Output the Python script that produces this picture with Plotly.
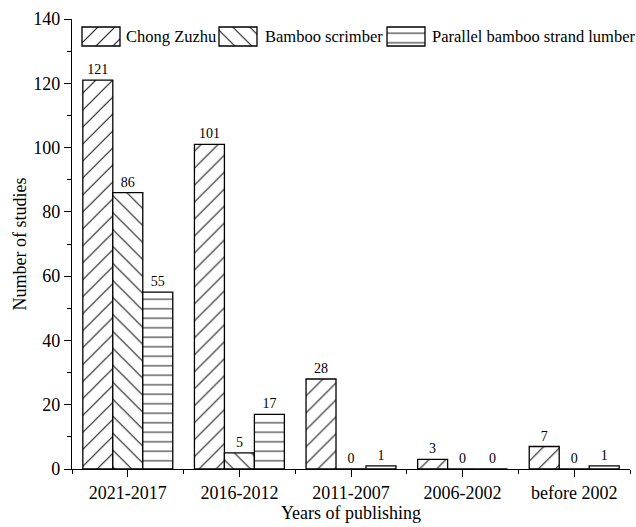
import plotly.graph_objects as go

# Publication counts per period for three engineered bamboo products
periods = ["2021-2017", "2016-2012", "2011-2007", "2006-2002", "before 2002"]
chong_zuzhu = [121, 101, 28, 3, 7]
bamboo_scrimber = [86, 5, 0, 0, 0]
pbsl = [55, 17, 1, 0, 1]
series_names = ["Chong Zuzhu", "Bamboo scrimber", "Parallel bamboo strand lumber"]

FONT = "Liberation Serif"
xpos = list(range(len(periods)))

# hatch style per series: (shape, tile size, solidity)
hatches = [("/", 12, 0.10), ("\\", 12, 0.10), ("-", 9.5, 0.11)]


def pattern(shape, size, solid):
    return dict(shape=shape, size=size, solidity=solid,
                fgcolor="#222", bgcolor="white", fillmode="replace")


fig = go.Figure()
for name, vals, (shape, size, solid) in zip(series_names,
                                            [chong_zuzhu, bamboo_scrimber, pbsl],
                                            hatches):
    fig.add_trace(go.Bar(
        x=xpos, y=vals, name=name, showlegend=False,
        text=[str(v) for v in vals], textposition="outside",
        textfont=dict(family=FONT, size=14, color="black"),
        cliponaxis=False,
        marker=dict(color="white", line=dict(color="black", width=1.3),
                    pattern=pattern(shape, size, solid)),
    ))

# Legend row drawn on a pixel-scaled overlay axis: hatched key boxes + labels
key_left = [82, 219, 387]
label_left = [124, 263, 430]
key_w, key_top, key_h, row_y = 38, 27, 19, 36.5
fig.add_trace(go.Bar(
    x=[k + key_w / 2 for k in key_left], y=[key_h] * 3, base=[key_top] * 3,
    width=[key_w] * 3, xaxis="x2", yaxis="y2", showlegend=False,
    hoverinfo="skip", cliponaxis=False,
    marker=dict(color="white", line=dict(color="black", width=1.3),
                pattern=dict(shape=[h[0] for h in hatches],
                             size=[h[1] for h in hatches],
                             solidity=[h[2] for h in hatches],
                             fgcolor="#222", bgcolor="white", fillmode="replace")),
))
for name, lx in zip(series_names, label_left):
    fig.add_annotation(x=lx, y=row_y, xref="x2", yref="y2", text=name,
                       showarrow=False, xanchor="left", yanchor="middle",
                       font=dict(family=FONT, size=16.5, color="black"))

fig.update_layout(
    width=636, height=527,
    margin=dict(l=72, r=6, t=19, b=58),
    paper_bgcolor="white", plot_bgcolor="white",
    barmode="group", bargap=0.194, bargroupgap=0,
    font=dict(family=FONT, size=18, color="black"),
    showlegend=False,
    xaxis=dict(
        range=[-0.5, len(periods) - 0.5],
        tickmode="array", tickvals=xpos, ticktext=periods,
        ticks="outside", ticklen=7, tickwidth=1.3, tickcolor="black",
        showline=True, linecolor="black", linewidth=1.3,
        showgrid=False, zeroline=False,
        minor=dict(ticks="outside", ticklen=4, tickwidth=1.3, tickcolor="black",
                   tick0=0.5, dtick=1, showgrid=False),
        title=dict(text="Years of publishing", standoff=4,
                   font=dict(family=FONT, size=18)),
        tickfont=dict(family=FONT, size=18),
    ),
    yaxis=dict(
        range=[0, 140], dtick=20,
        ticks="outside", ticklen=7, tickwidth=1.3, tickcolor="black",
        showline=True, linecolor="black", linewidth=1.3,
        showgrid=False, zeroline=False,
        minor=dict(ticks="outside", ticklen=4, tickwidth=1.3, tickcolor="black",
                   dtick=10, showgrid=False),
        title=dict(text="Number of studies", standoff=1,
                   font=dict(family=FONT, size=18)),
        tickfont=dict(family=FONT, size=18),
    ),
    xaxis2=dict(overlaying="x", range=[72, 630], visible=False, fixedrange=True),
    yaxis2=dict(overlaying="y", range=[469, 19], visible=False, fixedrange=True),
)

fig.write_html("out.html")
